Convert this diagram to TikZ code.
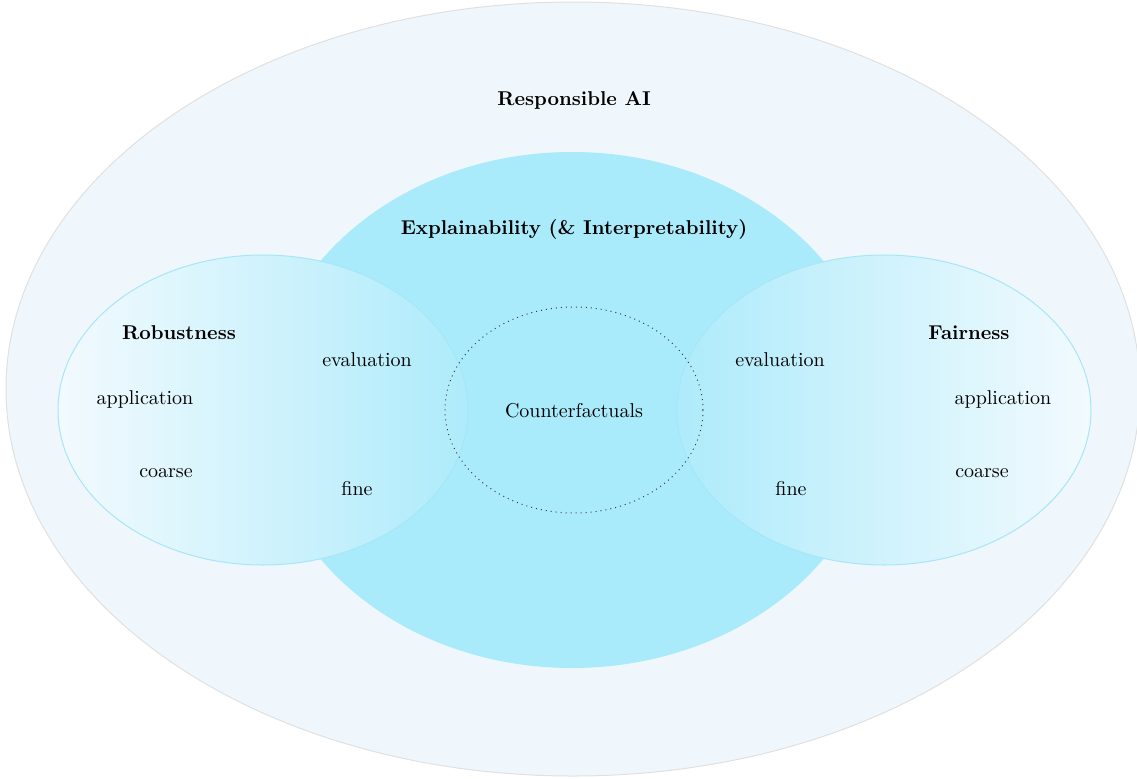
\documentclass[tikz,border=0pt]{standalone}
\usetikzlibrary{shapes.geometric}
\definecolor{outerfill}{HTML}{EFF7FC}
\definecolor{outerline}{HTML}{E0E0E0}
\definecolor{midfill}{HTML}{A9EAFB}
\definecolor{sideline}{HTML}{A6E6F8}
\definecolor{sidelight}{HTML}{F2FAFE}
\definecolor{sidedark}{HTML}{AEEBFB}
\tikzset{
  lbl/.style={inner sep=1pt, font=\normalsize},
  hdr/.style={inner sep=1pt, font=\normalsize\bfseries},
  sideell/.style={draw=sideline, line width=0.5pt}
}
\begin{document}
\begin{tikzpicture}[x=0.5pt, y=-0.5pt]
\useasboundingbox (0,0) rectangle (1137,778);
% outer ellipse
\path[fill=outerfill, draw=outerline, line width=0.5pt] (573,389) ellipse [x radius=283.5pt, y radius=193.5pt];
% middle ellipse
\path[fill=midfill] (572,410) ellipse [x radius=154pt, y radius=129pt];
% side ellipses
\path[sideell, left color=sidelight, right color=sidedark] (263,410) ellipse [x radius=102.5pt, y radius=77.5pt];
\path[sideell, left color=sidedark, right color=sidelight] (884,410) ellipse [x radius=103.5pt, y radius=77.5pt];
% inner dotted ellipse
\draw[black!75, dotted, line width=0.5pt] (574,410) ellipse [x radius=64.5pt, y radius=51.5pt];
% labels
\node[hdr] (rai) at (574,100) {Responsible AI};
\node[hdr] (xai) at (574,229) {Explainability (\& Interpretability)};
\node[lbl] (cf) at (574,411) {Counterfactuals};
\node[hdr] (rob) at (179,333) {Robustness};
\node[lbl] (revl) at (367,360) {evaluation};
\node[lbl] (rapp) at (145,399) {application};
\node[lbl] (rco) at (166,473) {coarse};
\node[lbl] (rfi) at (357,489) {fine};
\node[hdr] (fair) at (969,333) {Fairness};
\node[lbl] (fevl) at (780,360) {evaluation};
\node[lbl] (fapp) at (1003,399) {application};
\node[lbl] (fco) at (982,473) {coarse};
\node[lbl] (ffi) at (791,489) {fine};
\end{tikzpicture}
\end{document}
